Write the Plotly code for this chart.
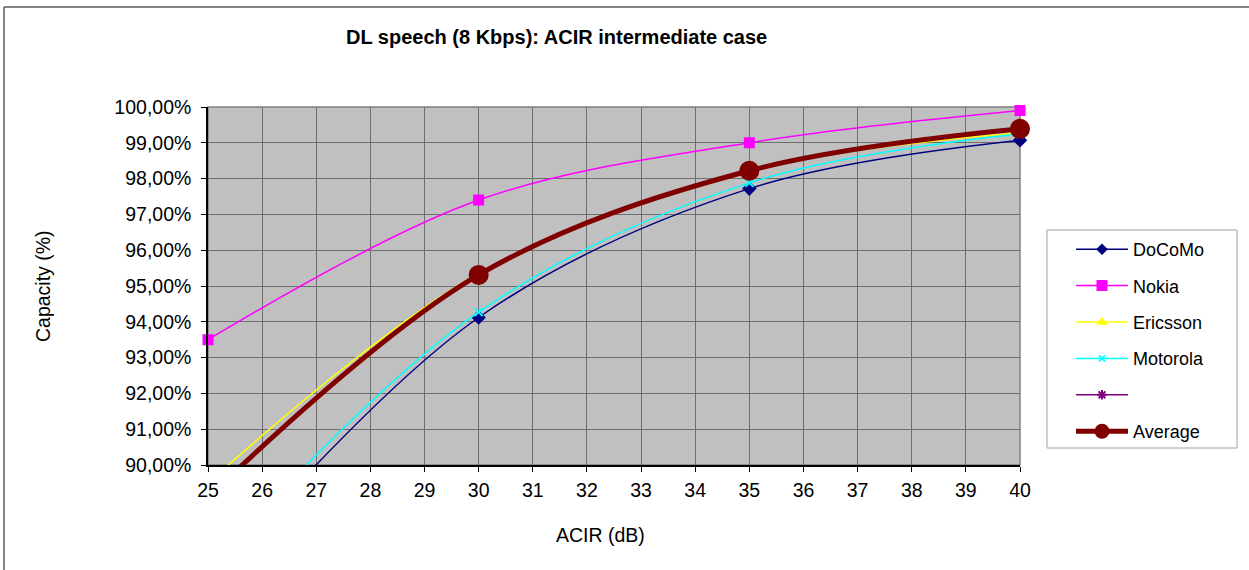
import plotly.graph_objects as go

# ACIR (dB) and capacity per vendor (fraction of max capacity)
acir = [25, 30, 35, 40]
docomo = [0.867, 0.9412, 0.9772, 0.9907]
nokia = [0.935, 0.974, 0.990, 0.999]
ericsson = [0.895, 0.9535, 0.9822, 0.9928]
motorola = [0.871, 0.9427, 0.9788, 0.9925]
average = [0.891, 0.9531, 0.9822, 0.9939]

x_ticks = list(range(25, 41))
y_ticks = [0.90 + i * 0.01 for i in range(11)]

Y_MIN, Y_MAX = 0.90, 1.00

W, H = 1249, 570
L, R, T, B = 208, 229, 107, 105
PW, PH = W - L - R, H - T - B


def px_x(px):
    return (px - L) / PW


def px_y(py):
    return (H - B - py) / PH


def visible_sizes(vals, size):
    # hide markers that fall below the value axis (Excel clips them)
    return [size if v >= Y_MIN - 1e-9 else 0 for v in vals]


series = [
    ("DoCoMo", docomo, "#000080", "diamond", 9),
    ("Nokia", nokia, "#FF00FF", "square", 9),
    ("Ericsson", ericsson, "#FFFF00", "triangle-up", 9),
    ("Motorola", motorola, "#00FFFF", "x-thin-open", 8),
]

fig = go.Figure()
for i, (name, vals, col, sym, sz) in enumerate(series):
    fig.add_trace(go.Scatter(
        x=acir, y=vals, name=name, mode="lines+markers",
        line=dict(color=col, width=1.5, shape="spline", smoothing=1),
        marker=dict(symbol=sym, size=visible_sizes(vals, sz), color=col, opacity=1,
                    line=dict(color=col, width=2)),
        cliponaxis=False, legendgroup=str(i),
    ))

# unnamed empty series (purple asterisk in the legend)
fig.add_trace(go.Scatter(
    x=[None], y=[None], name=" ", mode="lines+markers",
    line=dict(color="#800080", width=1.5),
    marker=dict(symbol="asterisk-open", size=8, color="#800080",
                line=dict(color="#800080", width=2)),
    legendgroup="4",
))

fig.add_trace(go.Scatter(
    x=acir, y=average, name="Average", mode="lines+markers",
    line=dict(color="#800000", width=5, shape="spline", smoothing=1),
    marker=dict(symbol="circle", size=visible_sizes(average, 20), color="#800000", opacity=1,
                line=dict(color="#800000", width=0)),
    cliponaxis=False, legendgroup="5",
))

fig.update_layout(
    width=W, height=H,
    margin=dict(l=L, r=R, t=T, b=B),
    paper_bgcolor="white", plot_bgcolor="#C0C0C0",
    font=dict(family="Liberation Sans, Arial, sans-serif", size=18, color="black"),
    separators=", ",
    showlegend=True,
    legend=dict(
        x=px_x(1071), y=px_y(231), xanchor="left", yanchor="top",
        bgcolor="rgba(0,0,0,0)", borderwidth=0,
        font=dict(size=18), tracegroupgap=10, itemwidth=52,
    ),
    annotations=[
        dict(text="<b>DL speech (8 Kbps): ACIR intermediate case</b>",
             xref="paper", yref="paper", x=px_x(556), y=px_y(37),
             showarrow=False, font=dict(size=20), xanchor="center", yanchor="middle"),
        dict(text="ACIR (dB)", xref="paper", yref="paper",
             x=px_x(600), y=px_y(535), font=dict(size=19.5),
             showarrow=False, xanchor="center", yanchor="middle"),
        dict(text="Capacity (%)", xref="paper", yref="paper",
             x=px_x(43), y=0.5, textangle=-90, font=dict(size=19.5),
             showarrow=False, xanchor="center", yanchor="middle"),
    ],
    shapes=[
        # plot area frame
        dict(type="rect", xref="paper", yref="paper", x0=0, x1=1, y0=0, y1=1,
             line=dict(color="#808080", width=1.5), layer="below"),
        # legend box
        dict(type="rect", xref="paper", yref="paper",
             x0=px_x(1047), x1=px_x(1237), y0=px_y(448), y1=px_y(230),
             line=dict(color="#A0A0A0", width=1), fillcolor="white", layer="below"),
        # chart border (top and left visible)
        dict(type="line", xref="paper", yref="paper",
             x0=px_x(4), x1=px_x(1260), y0=px_y(7), y1=px_y(7),
             line=dict(color="#5A5A5A", width=1.5)),
        dict(type="line", xref="paper", yref="paper",
             x0=px_x(4), x1=px_x(4), y0=px_y(7), y1=px_y(580),
             line=dict(color="#5A5A5A", width=1.5)),
    ],
)

fig.update_xaxes(
    range=[25, 40], tickvals=x_ticks, ticks="outside", ticklen=5, tickcolor="black",
    showline=True, linecolor="black", linewidth=1.5,
    showgrid=True, gridcolor="#6E6E6E", gridwidth=1, zeroline=False,
    tickfont=dict(size=19.5), ticklabelstandoff=2,
)
fig.update_yaxes(
    range=[Y_MIN, Y_MAX], tickvals=y_ticks, tickformat=".2%",
    ticks="outside", ticklen=5, tickcolor="black",
    showline=True, linecolor="black", linewidth=1.5,
    showgrid=True, gridcolor="#6E6E6E", gridwidth=1, zeroline=False,
    tickfont=dict(size=19.5), ticklabelstandoff=6,
)

fig.write_html("out.html", config={"displayModeBar": False},
               post_script="document.body.style.margin='0';")
